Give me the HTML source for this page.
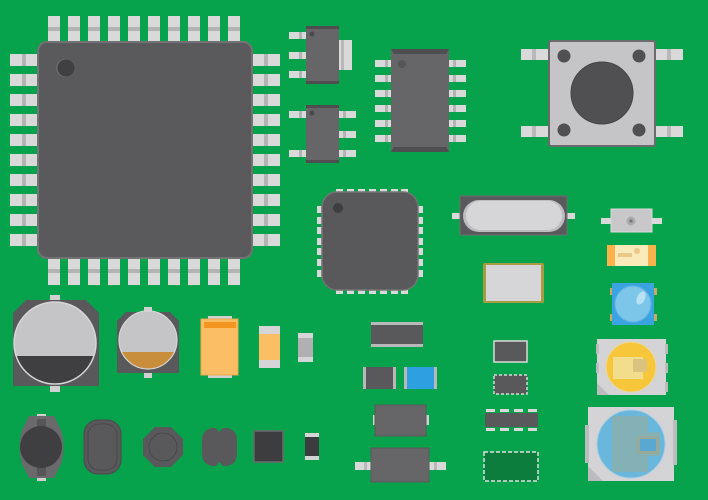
<!DOCTYPE html>
<html><head><meta charset="utf-8"><style>html,body{margin:0;padding:0;background:#07a24c}svg{display:block}</style></head><body>
<svg width="708" height="500" viewBox="0 0 708 500" xmlns="http://www.w3.org/2000/svg">
<defs>
<g id="pv"><rect x="0" y="0" width="12" height="27" fill="#d9d9d9"/><rect x="0" y="11" width="12" height="4" fill="#b3b3b3"/></g>
<g id="ph"><rect x="0" y="0" width="28" height="12" fill="#d9d9d9"/><rect x="12" y="0" width="4" height="12" fill="#b3b3b3"/></g>
<g id="sp"><rect x="0" y="0" width="17" height="7" fill="#d9d9d9"/><rect x="10" y="0" width="3" height="7" fill="#b3b3b3"/></g>
<g id="spr"><rect x="0" y="0" width="17" height="7" fill="#d9d9d9"/><rect x="4" y="0" width="3" height="7" fill="#b3b3b3"/></g>
</defs>
<rect width="708" height="500" fill="#07a24c"/>

<g>
<use href="#pv" x="48" y="16"/><use href="#pv" x="68" y="16"/><use href="#pv" x="88" y="16"/><use href="#pv" x="108" y="16"/><use href="#pv" x="128" y="16"/><use href="#pv" x="148" y="16"/><use href="#pv" x="168" y="16"/><use href="#pv" x="188" y="16"/><use href="#pv" x="208" y="16"/><use href="#pv" x="228" y="16"/>
<use href="#pv" x="48" y="258"/><use href="#pv" x="68" y="258"/><use href="#pv" x="88" y="258"/><use href="#pv" x="108" y="258"/><use href="#pv" x="128" y="258"/><use href="#pv" x="148" y="258"/><use href="#pv" x="168" y="258"/><use href="#pv" x="188" y="258"/><use href="#pv" x="208" y="258"/><use href="#pv" x="228" y="258"/>
<use href="#ph" x="10" y="54"/><use href="#ph" x="10" y="74"/><use href="#ph" x="10" y="94"/><use href="#ph" x="10" y="114"/><use href="#ph" x="10" y="134"/><use href="#ph" x="10" y="154"/><use href="#ph" x="10" y="174"/><use href="#ph" x="10" y="194"/><use href="#ph" x="10" y="214"/><use href="#ph" x="10" y="234"/>
<use href="#ph" x="252" y="54"/><use href="#ph" x="252" y="74"/><use href="#ph" x="252" y="94"/><use href="#ph" x="252" y="114"/><use href="#ph" x="252" y="134"/><use href="#ph" x="252" y="154"/><use href="#ph" x="252" y="174"/><use href="#ph" x="252" y="194"/><use href="#ph" x="252" y="214"/><use href="#ph" x="252" y="234"/>
<rect x="38" y="42" width="214" height="216" rx="9" fill="#5a5a5c" stroke="#737375" stroke-width="2"/>
<circle cx="65" cy="68" r="9" fill="#6a6a6c"/><circle cx="66" cy="68" r="8.5" fill="#404042"/>
</g>

<use href="#sp" x="289" y="32"/><use href="#sp" x="289" y="52"/><use href="#sp" x="289" y="71"/>
<rect x="339" y="40" width="13" height="30" fill="#d9d9d9"/><rect x="341" y="40" width="3" height="30" fill="#b8b8b8"/>
<rect x="306" y="26" width="33" height="58" fill="#666668"/><rect x="306" y="26" width="33" height="3" fill="#4e4e50"/><rect x="306" y="81" width="33" height="3" fill="#4e4e50"/>
<circle cx="312" cy="34" r="2.5" fill="#4a4a4c"/>
<use href="#sp" x="289" y="111"/><use href="#sp" x="289" y="150"/>
<use href="#spr" x="339" y="111"/><use href="#spr" x="339" y="131"/><use href="#spr" x="339" y="150"/>
<rect x="306" y="105" width="33" height="58" fill="#666668"/><rect x="306" y="105" width="33" height="3" fill="#4e4e50"/><rect x="306" y="160" width="33" height="3" fill="#4e4e50"/>
<circle cx="312" cy="113" r="2.5" fill="#4a4a4c"/>
<use href="#sp" x="375" y="60"/><use href="#sp" x="375" y="75"/><use href="#sp" x="375" y="90"/><use href="#sp" x="375" y="105"/><use href="#sp" x="375" y="120"/><use href="#sp" x="375" y="135"/>
<use href="#spr" x="449" y="60"/><use href="#spr" x="449" y="75"/><use href="#spr" x="449" y="90"/><use href="#spr" x="449" y="105"/><use href="#spr" x="449" y="120"/><use href="#spr" x="449" y="135"/>
<rect x="391" y="49" width="58" height="103" fill="#666668"/><polygon points="391,49 449,49 446,54 394,54" fill="#4e4e50"/><polygon points="391,152 449,152 446,147 394,147" fill="#4e4e50"/>
<circle cx="402" cy="64" r="4" fill="#555557"/>

<rect x="521" y="49" width="28" height="11" fill="#d9d9d9"/><rect x="532" y="49" width="4" height="11" fill="#b8b8b8"/>
<rect x="521" y="126" width="28" height="11" fill="#d9d9d9"/><rect x="532" y="126" width="4" height="11" fill="#b8b8b8"/>
<rect x="655" y="49" width="28" height="11" fill="#d9d9d9"/><rect x="667" y="49" width="4" height="11" fill="#b8b8b8"/>
<rect x="655" y="126" width="28" height="11" fill="#d9d9d9"/><rect x="667" y="126" width="4" height="11" fill="#b8b8b8"/>
<rect x="549" y="41" width="106" height="105" rx="2" fill="#c5c5c7" stroke="#6a6a6c" stroke-width="2"/>
<circle cx="564" cy="56" r="6.5" fill="#505052"/><circle cx="639" cy="56" r="6.5" fill="#505052"/><circle cx="564" cy="130" r="6.5" fill="#505052"/><circle cx="639" cy="130" r="6.5" fill="#505052"/>
<circle cx="602" cy="93" r="31" fill="#505052" stroke="#444446" stroke-width="1"/>

<g fill="#d9d9d9">
<rect x="336" y="189" width="7" height="4"/><rect x="347" y="189" width="7" height="4"/><rect x="358" y="189" width="7" height="4"/><rect x="369" y="189" width="7" height="4"/><rect x="380" y="189" width="7" height="4"/><rect x="391" y="189" width="7" height="4"/><rect x="401" y="189" width="7" height="4"/>
<rect x="336" y="290" width="7" height="4"/><rect x="347" y="290" width="7" height="4"/><rect x="358" y="290" width="7" height="4"/><rect x="369" y="290" width="7" height="4"/><rect x="380" y="290" width="7" height="4"/><rect x="391" y="290" width="7" height="4"/><rect x="401" y="290" width="7" height="4"/>
<rect x="317" y="206" width="5" height="7"/><rect x="317" y="217" width="5" height="7"/><rect x="317" y="227" width="5" height="7"/><rect x="317" y="238" width="5" height="7"/><rect x="317" y="248" width="5" height="7"/><rect x="317" y="259" width="5" height="7"/><rect x="317" y="270" width="5" height="7"/>
<rect x="418" y="206" width="5" height="7"/><rect x="418" y="217" width="5" height="7"/><rect x="418" y="227" width="5" height="7"/><rect x="418" y="238" width="5" height="7"/><rect x="418" y="248" width="5" height="7"/><rect x="418" y="259" width="5" height="7"/><rect x="418" y="270" width="5" height="7"/>
</g>
<rect x="322" y="192" width="96" height="98" rx="15" fill="#59595b" stroke="#747476" stroke-width="1.5"/>
<circle cx="338" cy="208" r="5" fill="#3e3e40"/>

<rect x="452" y="213" width="9" height="6" fill="#d9d9d9"/><rect x="566" y="213" width="9" height="6" fill="#d9d9d9"/>
<rect x="460" y="196" width="107" height="39" fill="#59595b" stroke="#6e6e70"/>
<rect x="463" y="200" width="102" height="32" rx="16" fill="#bdbdbf"/>
<rect x="466" y="201" width="96" height="29" rx="14.5" fill="#d6d6d8"/>

<rect x="601" y="218" width="11" height="6" fill="#d9d9d9"/><rect x="651" y="218" width="11" height="6" fill="#d9d9d9"/>
<rect x="611" y="209" width="41" height="23" fill="#c8c8ca" stroke="#dadadc"/>
<circle cx="631" cy="221" r="4.5" fill="#aaaaac"/><rect x="629.5" y="219.5" width="3" height="3" fill="#777"/>
<rect x="607" y="245" width="49" height="21" fill="#fbeab9"/>
<rect x="607" y="245" width="8" height="21" fill="#f9b24c"/><rect x="648" y="245" width="8" height="21" fill="#f9b24c"/>
<rect x="618" y="253" width="14" height="4" fill="#e8c98a"/><circle cx="637" cy="251" r="3" fill="#e8c98a"/>
<rect x="483" y="263" width="61" height="40" rx="2" fill="#a99b40"/>
<rect x="486" y="265" width="55" height="36" fill="#d6d6d8"/>
<rect x="610" y="288" width="3" height="7" fill="#c9a86a"/><rect x="610" y="314" width="3" height="7" fill="#c9a86a"/>
<rect x="654" y="288" width="3" height="7" fill="#c9a86a"/><rect x="654" y="314" width="3" height="7" fill="#c9a86a"/>
<rect x="612" y="283" width="42" height="42" fill="#3aa3e0"/>
<circle cx="633" cy="304" r="18" fill="#7cc6ea" stroke="#5fb3e1"/>
<ellipse cx="641" cy="298" rx="4" ry="7" fill="#b8e1f5" transform="rotate(25 641 298)"/>

<rect x="50" y="295" width="10" height="6" fill="#d0d0d0"/><rect x="50" y="385" width="10" height="7" fill="#d0d0d0"/>
<polygon points="26,300 86,300 99,313 99,386 13,386 13,313" fill="#59595b"/>
<clipPath id="c1"><circle cx="55" cy="343" r="41"/></clipPath>
<circle cx="55" cy="343" r="41" fill="#c5c5c7"/>
<rect x="10" y="356" width="90" height="40" fill="#3f3f41" clip-path="url(#c1)"/>
<circle cx="55" cy="343" r="41" fill="none" stroke="#d6d6d8" stroke-width="1.5"/>
<rect x="144" y="307" width="8" height="6" fill="#d0d0d0"/><rect x="144" y="373" width="8" height="5" fill="#d0d0d0"/>
<polygon points="126,312 170,312 179,321 179,373 117,373 117,321" fill="#59595b"/>
<clipPath id="c2"><circle cx="148" cy="340" r="29"/></clipPath>
<circle cx="148" cy="340" r="29" fill="#c5c5c7"/>
<rect x="115" y="352" width="70" height="30" fill="#c98e3c" clip-path="url(#c2)"/>
<circle cx="148" cy="340" r="29" fill="none" stroke="#d6d6d8" stroke-width="1.2"/>
<rect x="208" y="316" width="24" height="4" fill="#d0d0d0"/><rect x="208" y="374" width="24" height="4" fill="#d0d0d0"/>
<rect x="201" y="319" width="37" height="56" fill="#fbbe64" stroke="#e9a94f"/>
<rect x="204" y="322" width="32" height="6" fill="#f4951f"/>
<rect x="259" y="326" width="21" height="42" fill="#fbbe64"/>
<rect x="259" y="326" width="21" height="8" fill="#d5d5d7"/><rect x="259" y="360" width="21" height="8" fill="#d5d5d7"/>
<rect x="298" y="333" width="15" height="29" fill="#b0b0b2"/>
<rect x="298" y="333" width="15" height="5" fill="#d5d5d7"/><rect x="298" y="357" width="15" height="5" fill="#d5d5d7"/>

<rect x="37" y="414" width="9" height="5" fill="#d0d0d0"/><rect x="37" y="476" width="9" height="5" fill="#d0d0d0"/>
<path d="M29,416 L54,416 L61,430 Q66,447 61,464 L54,478 L29,478 L22,464 Q17,447 22,430 Z" fill="#6a6a6c"/>
<rect x="37" y="419" width="9" height="57" fill="#555557"/>
<circle cx="41" cy="447" r="21" fill="#3f3f41"/>
<rect x="84" y="420" width="37" height="54" rx="14" fill="#59595b" stroke="#4a4a4c" stroke-width="1"/>
<rect x="88" y="424" width="29" height="46" rx="11" fill="none" stroke="#444446" stroke-width="0.8"/>
<polygon points="155,427 171,427 183,439 183,455 171,467 155,467 143,455 143,439" fill="#59595b"/>
<circle cx="163" cy="447" r="14" fill="none" stroke="#444446" stroke-width="0.8"/>
<rect x="202" y="428" width="35" height="38" rx="11" fill="#59595b"/>
<polygon points="215,427 224,427 219.5,432" fill="#07a24c"/><polygon points="215,467 224,467 219.5,462" fill="#07a24c"/>
<rect x="254" y="431" width="29" height="31" fill="#3d3d3f" stroke="#6b6b6d" stroke-width="1.5"/>
<rect x="305" y="433" width="14" height="27" fill="#3d3d3f"/>
<rect x="305" y="433" width="14" height="4" fill="#d5d5d7"/><rect x="305" y="456" width="14" height="4" fill="#d5d5d7"/>

<rect x="371" y="322" width="52" height="25" fill="#59595b"/>
<rect x="371" y="322" width="52" height="3" fill="#b8b8ba"/><rect x="371" y="344" width="52" height="3" fill="#b8b8ba"/>
<rect x="363" y="367" width="33" height="22" fill="#59595b"/><rect x="363" y="367" width="3" height="22" fill="#b8b8ba"/><rect x="393" y="367" width="3" height="22" fill="#b8b8ba"/>
<rect x="404" y="367" width="33" height="22" fill="#2e9fe0"/><rect x="404" y="367" width="3" height="22" fill="#b8b8ba"/><rect x="434" y="367" width="3" height="22" fill="#b8b8ba"/>
<rect x="373" y="415" width="3" height="10" fill="#d0d0d0"/><rect x="426" y="415" width="3" height="10" fill="#d0d0d0"/>
<rect x="375" y="405" width="51" height="31" fill="#666668" stroke="#59595b"/>
<rect x="355" y="462" width="17" height="8" fill="#d9d9d9"/><rect x="429" y="462" width="17" height="8" fill="#d9d9d9"/>
<rect x="364" y="462" width="3" height="8" fill="#b8b8ba"/><rect x="434" y="462" width="3" height="8" fill="#b8b8ba"/>
<rect x="371" y="448" width="58" height="34" fill="#666668" stroke="#59595b"/>

<rect x="494" y="341" width="33" height="21" fill="#59595b" stroke="#d9d9d9" stroke-width="1.5"/>
<rect x="494" y="375" width="33" height="19" fill="#59595b" stroke="#d9d9d9" stroke-width="1.5" stroke-dasharray="3 2"/>
<g fill="#d9d9d9">
<rect x="486" y="409" width="9" height="3"/><rect x="500" y="409" width="9" height="3"/><rect x="514" y="409" width="9" height="3"/><rect x="528" y="409" width="9" height="3"/>
<rect x="486" y="428" width="9" height="3"/><rect x="500" y="428" width="9" height="3"/><rect x="514" y="428" width="9" height="3"/><rect x="528" y="428" width="9" height="3"/>
</g>
<rect x="485" y="413" width="53" height="14" fill="#59595b"/>
<rect x="484" y="452" width="54" height="29" fill="#0c7d3d" stroke="#e0e0e0" stroke-width="1.5" stroke-dasharray="4 2"/>

<rect x="597" y="339" width="69" height="56" fill="#d4d4d6"/>
<polygon points="597,383 609,395 597,395" fill="#bcbcbe"/>
<rect x="596" y="344" width="3" height="10" fill="#bcbcbe"/><rect x="596" y="363" width="3" height="10" fill="#bcbcbe"/>
<rect x="665" y="344" width="3" height="10" fill="#bcbcbe"/><rect x="665" y="363" width="3" height="10" fill="#bcbcbe"/><rect x="665" y="382" width="3" height="10" fill="#bcbcbe"/>
<circle cx="631" cy="367" r="25" fill="#f8c63b" stroke="#e8d9a0"/>
<rect x="613" y="357" width="30" height="22" fill="#f1dd8c"/>
<rect x="633" y="359" width="14" height="13" fill="#d9c37e"/>

<rect x="588" y="407" width="86" height="74" fill="#d4d4d6"/>
<polygon points="588,466 603,481 588,481" fill="#bcbcbe"/>
<rect x="585" y="425" width="4" height="38" fill="#bcbcbe"/><rect x="673" y="420" width="4" height="45" fill="#bcbcbe"/>
<circle cx="631" cy="444" r="34" fill="#6ab7dd"/>
<path d="M612,416 L648,416 L648,432 L660,432 L660,456 L648,456 L648,472 L612,472 Z" fill="#95ae9c" opacity="0.6"/>
<rect x="637" y="436" width="22" height="18" fill="#98aa9a"/>
<rect x="640" y="439" width="16" height="12" fill="#5aa7d2"/>
<circle cx="631" cy="444" r="34" fill="none" stroke="#a9cde0" stroke-width="1"/>
</svg>
</body></html>
